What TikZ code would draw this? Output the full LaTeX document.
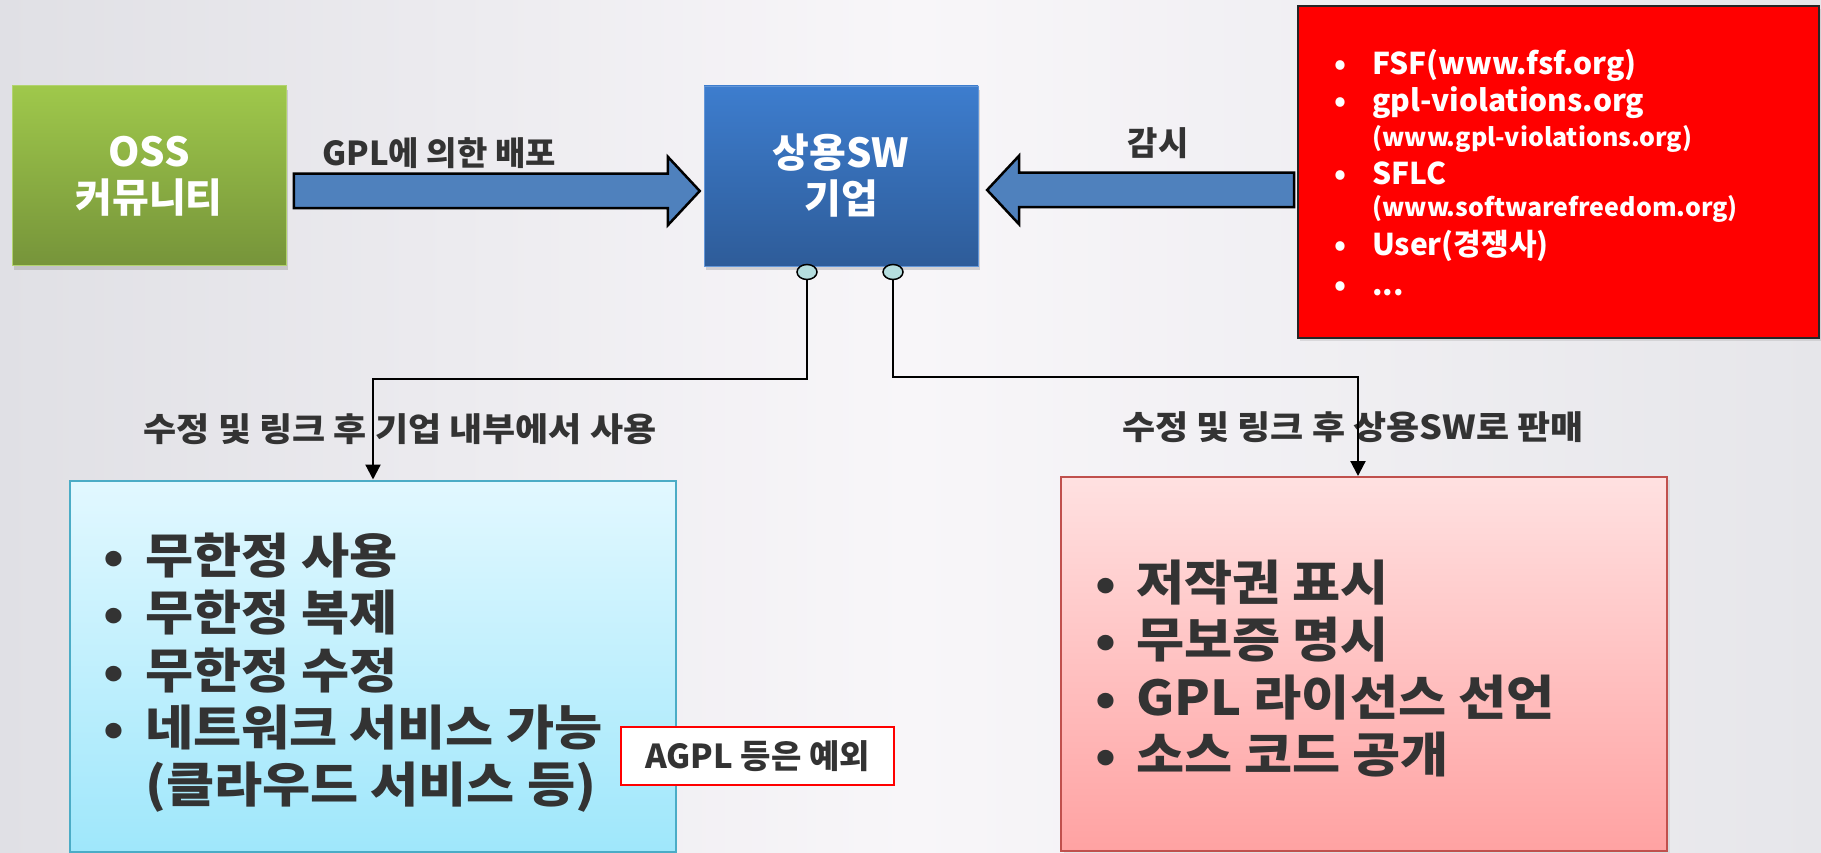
\documentclass[tikz,border=0pt]{standalone}
\usepackage{fontspec}
\setmainfont{Noto Sans CJK KR}
\newfontfamily\kfont{Noto Sans CJK KR}[FakeStretch=1.09]
\usetikzlibrary{shapes.arrows,shapes.geometric,shadows,calc,arrows.meta}
\newcommand\myfs[2]{\fontsize{#1}{#2}\selectfont}
\definecolor{txt}{HTML}{333333}
\definecolor{gtop}{HTML}{9FC84B}
\definecolor{gbot}{HTML}{76943A}
\definecolor{btop}{HTML}{3D7DCE}
\definecolor{bbot}{HTML}{2E5C99}
\definecolor{arr}{HTML}{4F81BD}
\definecolor{ctop}{HTML}{E2F8FF}
\definecolor{cbot}{HTML}{9FE7FB}
\definecolor{cbor}{HTML}{4BACC6}
\definecolor{ptop}{HTML}{FFE1E1}
\definecolor{pbot}{HTML}{FFA2A2}
\definecolor{pbor}{HTML}{C0504D}
\definecolor{dotc}{HTML}{B5DEDF}
\definecolor{bgL}{HTML}{E0E0E5}
\definecolor{bgM}{HTML}{F8F6F9}
\definecolor{bgR}{HTML}{E6E6EA}
\tikzset{
  bigbox/.style={minimum width=274pt, minimum height=180pt, inner sep=0pt, text=white, align=center,
    font=\myfs{40}{46}\bfseries, drop shadow={opacity=0.3, shadow xshift=2pt, shadow yshift=-4pt}},
  blockarr/.style={single arrow, draw=black, line width=2.5pt, fill=arr, inner xsep=0pt, inner ysep=16pt,
    single arrow head extend=17pt, single arrow tip angle=94, minimum width=66pt},
  lbl/.style={text=txt, font=\myfs{33}{40}\bfseries, inner sep=0pt},
  klbl/.style={text=txt, font=\kfont\myfs{33}{40}\bfseries, inner sep=0pt},
  dot/.style={ellipse, draw=black, line width=1.5pt, fill=dotc, minimum width=20pt, minimum height=15pt, inner sep=0pt},
  conn/.style={draw=black, line width=2.2pt, -{Triangle[width=15pt,length=15pt]}},
  redbig/.style={text=white, font=\myfs{30}{36}\bfseries, inner sep=0pt, anchor=base west},
  redsmall/.style={text=white, font=\myfs{25}{30}\bfseries, inner sep=0pt, anchor=base west},
  item/.style={text=txt, font=\kfont\myfs{48}{57}\bfseries, inner sep=0pt, anchor=base west},
}
\begin{document}
\begin{tikzpicture}[x=1pt,y=-1pt]
\useasboundingbox (0,0) rectangle (1821,853);
\shade[left color=bgL, right color=bgR, middle color=bgM] (0,0) rectangle (1821,853);

% main boxes
\node[bigbox, top color=gtop, bottom color=gbot, draw=gtop!80!white, line width=1pt] (oss) at (149,176) {OSS\\커뮤니티};
\node[bigbox, top color=btop, bottom color=bbot, draw=btop!80!white, line width=0.8pt] (sw) at (841,176) {상용SW\\기업};

% monitoring box
\node[draw=black!85, line width=2pt, fill=red, minimum width=521pt, minimum height=332pt, inner sep=0pt,
  drop shadow={opacity=0.2, shadow xshift=2pt, shadow yshift=-3pt}] (mon) at (1558.5,172) {};
\node[redbig] (r1) at (1334,74.5) {\makebox[38pt][l]{•}FSF(www.fsf.org)};
\node[redbig] (r2) at (1334,112) {\makebox[38pt][l]{•}gpl-violations.org};
\node[redsmall] (r3) at (1372,147) {(www.gpl-violations.org)};
\node[redbig] (r4) at (1334,185) {\makebox[38pt][l]{•}SFLC};
\node[redsmall] (r5) at (1372,217) {(www.softwarefreedom.org)};
\node[redbig] (r6) at (1334,256) {\makebox[38pt][l]{•}User(경쟁사)};
\node[redbig] (r7) at (1334,295) {\makebox[38pt][l]{•}...};

% block arrows
\node[blockarr, minimum height=406pt, anchor=tail] (a1) at ($(oss.east)+(6,15)$) {};
\node[blockarr, minimum height=307pt, shape border rotate=180, anchor=tip] (a2) at ($(sw.east)+(7,14)$) {};
\node[lbl] (lab1) at (439,153) {GPL에 의한 배포};
\node[lbl] (lab2) at (1158,143) {감시};

% lower boxes
\node[top color=ctop, bottom color=cbot, draw=cbor, line width=2pt, minimum width=606pt, minimum height=371pt, inner sep=0pt] (use) at (373,666) {};
\node[top color=ptop, bottom color=pbot, draw=pbor, line width=2pt, minimum width=606pt, minimum height=374pt, inner sep=0pt,
  drop shadow={opacity=0.15, shadow xshift=3pt, shadow yshift=-3pt}] (sell) at (1364,664) {};

\node[item] (u1) at (103,573) {\makebox[42pt][l]{•}무한정 사용};
\node[item] (u2) at (103,630) {\makebox[42pt][l]{•}무한정 복제};
\node[item] (u3) at (103,688) {\makebox[42pt][l]{•}무한정 수정};
\node[item] (u4) at (103,745) {\makebox[42pt][l]{•}네트워크 서비스 가능};
\node[item] (u5) at (145,802) {(클라우드 서비스 등)};

\node[item] (s1) at (1095,600) {\makebox[41pt][l]{•}저작권 표시};
\node[item] (s2) at (1095,657) {\makebox[41pt][l]{•}무보증 명시};
\node[item] (s3) at (1095,715) {\makebox[41pt][l]{•}GPL 라이선스 선언};
\node[item] (s4) at (1095,772) {\makebox[41pt][l]{•}소스 코드 공개};

\node[draw=red, line width=2.2pt, fill=white, minimum width=273pt, minimum height=58pt, inner sep=0pt,
  text=txt, font=\myfs{33}{40}\bfseries] (agpl) at (757.5,756) {AGPL 등은 예외};

% connectors
\node[klbl] (lab3) at (400,429) {수정 및 링크 후 기업 내부에서 사용};
\node[klbl] (lab4) at (1353,427) {수정 및 링크 후 상용SW로 판매};
\node[dot] (c1) at (807,272) {};
\node[dot] (c2) at (893,272) {};
\coordinate (k1) at (373,379);
\coordinate (k2) at (1358,377);
\draw[conn] (c1.south) |- (k1) -- (k1 |- use.north);
\draw[conn] (c2.south) |- (k2) -- (k2 |- sell.north);
\end{tikzpicture}
\end{document}
